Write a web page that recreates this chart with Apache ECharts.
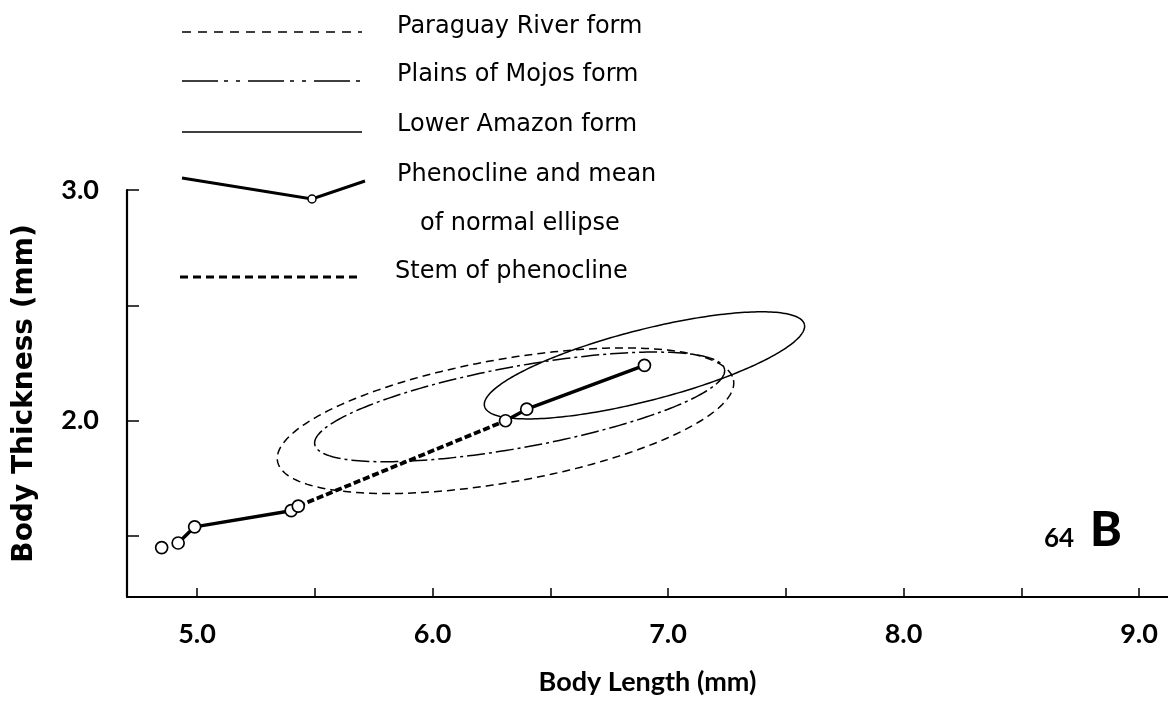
<!DOCTYPE html>
<html>
<head>
<meta charset="utf-8">
<script src="https://cdn.jsdelivr.net/npm/echarts@6/dist/echarts.min.js"></script>
<style>
  html, body { margin: 0; padding: 0; background: #ffffff; }
  #chart { width: 1168px; height: 701px; }
</style>
</head>
<body>
<div id="chart"></div>
<script>
// Axis ticks and labels
const xTicks = [5.0, 5.5, 6.0, 6.5, 7.0, 7.5, 8.0, 8.5, 9.0];
const xLabels = [5, 6, 7, 8, 9];
const yTicks = [1.5, 2.0, 2.5, 3.0];
const yLabels = [2, 3];

// Sample means (body length, body thickness) along the phenocline
const isolatedMean = [[4.85, 1.45]];
const lowerPhenocline = [[4.92, 1.47], [4.99, 1.54], [5.40, 1.61], [5.43, 1.63]];
const stemOfPhenocline = [[5.43, 1.63], [6.31, 2.00]];
const upperPhenocline = [[6.31, 2.00], [6.40, 2.05], [6.90, 2.24]];

// Normal ellipses of the three forms: centre, major and minor semi-axis vectors (mm)
const formNames = ['Paraguay River form', 'Plains of Mojos form', 'Lower Amazon form'];
const ellipseCenters = [[6.31, 2.00], [6.37, 2.06], [6.90, 2.24]];
const ellipseMajor = [[0.968, 0.176], [0.870, 0.163], [0.679, 0.178]];
const ellipseMinor = [[0.047, -0.262], [0.032, -0.173], [0.038, -0.149]];

// Legend entries
const legendLabels = ['Paraguay River form', 'Plains of Mojos form', 'Lower Amazon form',
                      'Phenocline and mean', 'of normal ellipse', 'Stem of phenocline'];
const figureNumber = '64';
const figurePanel = 'B';

const ellipseDashes = [[8, 5], [18, 4, 3, 4], null];

const ellipseData = ellipseCenters.map((c, i) =>
  [c[0], c[1], ellipseMajor[i][0], ellipseMajor[i][1], ellipseMinor[i][0], ellipseMinor[i][1], i]);

const allMeans = isolatedMean.concat(lowerPhenocline, upperPhenocline);

const chart = echarts.init(document.getElementById('chart'));

const legendFont = '24px "DejaVu Sans"';
const lx0 = 182, lx1 = 362, tx = 397;

const option = {
  animation: false,
  backgroundColor: '#ffffff',
  grid: { left: 127, right: 0, top: 190, bottom: 100 },
  xAxis: {
    type: 'value',
    min: 4.7028,
    max: 9.123,
    name: 'Body Length (mm)',
    nameLocation: 'middle',
    nameGap: 72,
    nameTextStyle: { fontFamily: 'Lato', fontWeight: 'bold', fontSize: 27, color: '#000' },
    axisLine: { show: true, onZero: false, lineStyle: { color: '#000', width: 2.2 } },
    axisTick: { show: true, inside: true, length: 9, lineStyle: { color: '#000', width: 1.5 }, customValues: xTicks },
    axisLabel: {
      customValues: xLabels, margin: 24,
      fontFamily: 'Lato', fontWeight: 'bold', fontSize: 27, color: '#000',
      formatter: v => v.toFixed(1)
    },
    splitLine: { show: false }
  },
  yAxis: {
    type: 'value',
    min: 1.236,
    max: 3.0,
    name: 'Body Thickness (mm)',
    nameLocation: 'middle',
    nameGap: 88,
    nameTextStyle: { fontFamily: 'DejaVu Sans', fontWeight: 'bold', fontSize: 28, color: '#000' },
    axisLine: { show: true, onZero: false, lineStyle: { color: '#000', width: 2.2 } },
    axisTick: { show: true, inside: true, length: 12, lineStyle: { color: '#000', width: 1.5 }, customValues: yTicks },
    axisLabel: {
      customValues: yLabels, margin: 28,
      fontFamily: 'Lato', fontWeight: 'bold', fontSize: 27, color: '#000',
      formatter: v => v.toFixed(1)
    },
    splitLine: { show: false }
  },
  graphic: [
    // legend glyphs
    { type: 'line', shape: { x1: lx0, y1: 32, x2: lx1, y2: 32 }, style: { stroke: '#000', lineWidth: 1.6, lineDash: [9, 7] }, silent: true },
    { type: 'line', shape: { x1: lx0, y1: 81, x2: lx1, y2: 81 }, style: { stroke: '#000', lineWidth: 1.6, lineDash: [36, 6, 4, 8, 4, 8] }, silent: true },
    { type: 'line', shape: { x1: lx0, y1: 132, x2: lx1, y2: 132 }, style: { stroke: '#000', lineWidth: 1.6 }, silent: true },
    { type: 'polyline', shape: { points: [[lx0, 178], [312, 199], [365, 181]] }, style: { stroke: '#000', lineWidth: 3, fill: null }, silent: true },
    { type: 'circle', shape: { cx: 312, cy: 199, r: 4 }, style: { fill: '#fff', stroke: '#000', lineWidth: 1.5 }, silent: true, z: 10 },
    { type: 'line', shape: { x1: 180, y1: 277, x2: lx1, y2: 277 }, style: { stroke: '#000', lineWidth: 3, lineDash: [8, 5] }, silent: true },
    // legend texts
    { type: 'text', x: tx, y: 26.5, style: { text: legendLabels[0], font: legendFont, fill: '#000', verticalAlign: 'middle' }, silent: true },
    { type: 'text', x: tx, y: 74.5, style: { text: legendLabels[1], font: legendFont, fill: '#000', verticalAlign: 'middle' }, silent: true },
    { type: 'text', x: tx, y: 124.5, style: { text: legendLabels[2], font: legendFont, fill: '#000', verticalAlign: 'middle' }, silent: true },
    { type: 'text', x: tx, y: 174.5, style: { text: legendLabels[3], font: legendFont, fill: '#000', verticalAlign: 'middle' }, silent: true },
    { type: 'text', x: 420, y: 223.5, style: { text: legendLabels[4], font: legendFont, fill: '#000', verticalAlign: 'middle' }, silent: true },
    { type: 'text', x: 395, y: 271.5, style: { text: legendLabels[5], font: legendFont, fill: '#000', verticalAlign: 'middle' }, silent: true },
    // figure number
    { type: 'text', x: 1044, y: 539, style: { text: figureNumber, font: 'bold 26px Lato', fill: '#000', verticalAlign: 'middle' }, silent: true },
    { type: 'text', x: 1090, y: 531, style: { text: figurePanel, font: '900 48px Lato', fill: '#000', verticalAlign: 'middle' }, silent: true }
  ],
  series: [
    {
      name: 'Normal ellipses',
      type: 'custom',
      coordinateSystem: 'cartesian2d',
      encode: { x: 0, y: 1 },
      silent: true,
      data: ellipseData,
      renderItem: function (params, api) {
        const cx = api.value(0), cy = api.value(1);
        const p0 = api.coord([cx, cy]);
        const pu = api.coord([cx + api.value(2), cy + api.value(3)]);
        const pv = api.coord([cx + api.value(4), cy + api.value(5)]);
        const ux = pu[0] - p0[0], uy = pu[1] - p0[1];
        const vx = pv[0] - p0[0], vy = pv[1] - p0[1];
        const pts = [];
        const n = 240;
        for (let k = 0; k <= n; k++) {
          const t = (k / n) * Math.PI * 2;
          const c = Math.cos(t), s = Math.sin(t);
          pts.push([p0[0] + ux * c + vx * s, p0[1] + uy * c + vy * s]);
        }
        const dash = ellipseDashes[api.value(6)];
        return {
          type: 'polyline',
          shape: { points: pts },
          style: { stroke: '#000', lineWidth: 1.5, fill: null, lineDash: dash || null }
        };
      },
      z: 2
    },
    {
      name: 'Phenocline (lower)',
      type: 'line',
      data: lowerPhenocline,
      symbol: 'none',
      lineStyle: { color: '#000', width: 3.5 },
      silent: true,
      z: 3
    },
    {
      name: 'Stem of phenocline',
      type: 'line',
      data: stemOfPhenocline,
      symbol: 'none',
      lineStyle: { color: '#000', width: 3.8, type: [7, 3] },
      silent: true,
      z: 3
    },
    {
      name: 'Phenocline (upper)',
      type: 'line',
      data: upperPhenocline,
      symbol: 'none',
      lineStyle: { color: '#000', width: 3.5 },
      silent: true,
      z: 3
    },
    {
      name: 'Means',
      type: 'scatter',
      data: allMeans,
      symbol: 'circle',
      symbolSize: 12,
      itemStyle: { color: '#fff', borderColor: '#000', borderWidth: 1.7, opacity: 1 },
      silent: true,
      z: 5
    }
  ]
};

chart.setOption(option);
</script>
</body>
</html>
